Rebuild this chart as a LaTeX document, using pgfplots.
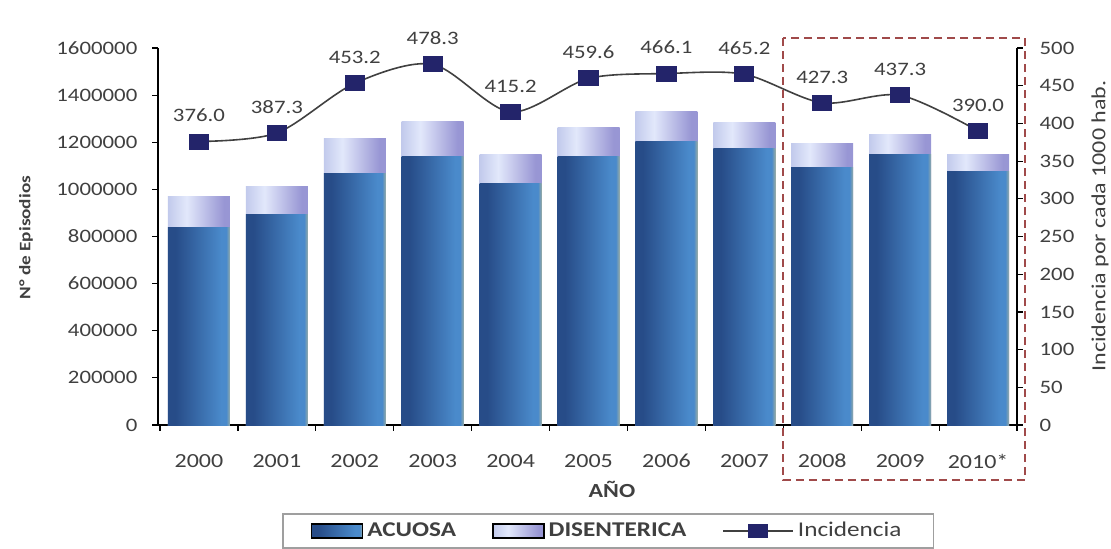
\documentclass[border=0pt]{standalone}
\usepackage{pgfplots}
\pgfplotsset{compat=1.18}
\usepackage{fontspec}
\setmainfont{Carlito}[FakeStretch=1.2]
\definecolor{txt}{HTML}{404040}
\definecolor{ac1}{HTML}{274C88}
\definecolor{ac2}{HTML}{4A8ACB}
\definecolor{ac3}{HTML}{98ACA6}
\definecolor{ds1}{HTML}{C2CAEC}
\definecolor{ds2}{HTML}{E2E8FB}
\definecolor{ds3}{HTML}{9896D4}
\definecolor{mk}{HTML}{23246A}
\definecolor{boxred}{HTML}{A04A4A}
\pgfdeclarehorizontalshading{acuosa}{100bp}{color(0bp)=(ac1); color(25bp)=(ac1); color(31bp)=(ac1); color(68bp)=(ac2); color(72bp)=(ac2); color(75bp)=(ac3); color(100bp)=(ac3)}
\pgfdeclarehorizontalshading{disen}{100bp}{color(0bp)=(ds1); color(25bp)=(ds1); color(40bp)=(ds2); color(70bp)=(ds3); color(75bp)=(ds3); color(100bp)=(ds3)}
\pgfplotsset{/pgf/number format/assume math mode=true,
  acb/.style={draw=none, shading=acuosa, bar shift=0pt, forget plot},
  dsb/.style={draw=none, shading=disen, bar shift=0pt, forget plot}}
\begin{document}
\begin{tikzpicture}
\useasboundingbox (-79pt,-61.5pt) rectangle (476.5pt,212.5pt);
\begin{axis}[
  at={(0pt,0pt)}, anchor=south west,
  scale only axis, width=429.5pt, height=188.5pt,
  xmin=-0.526, xmax=10.5, ymin=0, ymax=1600000,
  axis lines*=left,
  axis line style={black, line width=0.7pt},
  ybar, bar width=31pt,
  xtick={-0.5,0.5,...,10.5}, xticklabels={},
  extra x ticks={0,1,2,3,4,5,6,7,8,9,10},
  extra x tick labels={2000,2001,2002,2003,2004,2005,2006,2007,2008,2009,2010*},
  extra x tick style={major tick length=0pt, tick label style={yshift=-11pt, font=\fontsize{10}{11}\selectfont}},
  tick align=outside, major tick length=2.8pt,
  tick style={black, line width=0.6pt},
  ytick={0,200000,...,1600000},
  scaled y ticks=false,
  yticklabel style={/pgf/number format/fixed, /pgf/number format/1000 sep={}, xshift=-4pt},
  ticklabel style={font=\fontsize{9.5}{10}\selectfont, text=txt},
  ylabel={N° de Episodios},
  ylabel style={at={(axis description cs:-0.1537,0.497)}, anchor=center, font=\bfseries\fontsize{8}{9}\selectfont, text=txt},
  xlabel={AÑO},
  xlabel style={at={(axis description cs:0.5285,-0.17)}, anchor=center, font=\bfseries\fontsize{10}{11}\selectfont, text=txt},
  clip=false,
]
% totals (ACUOSA + DISENTERICA), drawn first in the DISENTERICA shading
\addplot[dsb] coordinates {(0,968000)};
\addplot[dsb] coordinates {(1,1012000)};
\addplot[dsb] coordinates {(2,1217000)};
\addplot[dsb] coordinates {(3,1287000)};
\addplot[dsb] coordinates {(4,1146000)};
\addplot[dsb] coordinates {(5,1264000)};
\addplot[dsb] coordinates {(6,1330000)};
\addplot[dsb] coordinates {(7,1283000)};
\addplot[dsb] coordinates {(8,1196000)};
\addplot[dsb] coordinates {(9,1231000)};
\addplot[dsb] coordinates {(10,1148000)};
% ACUOSA
\addplot[acb] coordinates {(0,840000)};
\addplot[acb] coordinates {(1,894000)};
\addplot[acb] coordinates {(2,1068000)};
\addplot[acb] coordinates {(3,1139000)};
\addplot[acb] coordinates {(4,1023000)};
\addplot[acb] coordinates {(5,1139000)};
\addplot[acb] coordinates {(6,1202000)};
\addplot[acb] coordinates {(7,1174000)};
\addplot[acb] coordinates {(8,1094000)};
\addplot[acb] coordinates {(9,1149000)};
\addplot[acb] coordinates {(10,1075000)};
\end{axis}
\begin{axis}[
  at={(0pt,0pt)}, anchor=south west,
  scale only axis, width=429.5pt, height=188.5pt,
  xmin=-0.526, xmax=10.5, ymin=0, ymax=500,
  axis x line=none, axis y line*=right,
  axis line style={black, line width=0.7pt},
  tick align=outside, major tick length=2.8pt,
  tick style={black, line width=0.6pt},
  ytick={0,50,...,500},
  yticklabel style={xshift=5pt, font=\fontsize{9.5}{10}\selectfont, text=txt},
  ylabel={Incidencia por cada 1000 hab.},
  ylabel style={at={(axis description cs:1.0966,0.528)}, anchor=center, font=\fontsize{10}{11}\selectfont, text=txt},
  clip=false,
  legend style={at={(0.524,-0.281)}, anchor=center, legend columns=3,
    draw=gray!75, line width=0.8pt, font=\fontsize{10.5}{11}\selectfont, text=txt,
    inner xsep=14pt, inner ysep=2pt,
    /tikz/every even column/.append style={column sep=16pt}},
]
\addlegendimage{legend image code/.code={\fill[shading=acuosa] (0pt,-3.5pt) rectangle (25.5pt,3.5pt);}}
\addlegendentry{\textbf{ACUOSA}}
\addlegendimage{legend image code/.code={\fill[shading=disen] (0pt,-3.5pt) rectangle (25.5pt,3.5pt);}}
\addlegendentry{\textbf{DISENTERICA}}
\addplot[smooth, color=txt, line width=0.8pt, mark=square*, mark size=3.6pt,
  mark options={xscale=1.3, fill=mk, draw=mk},
  nodes near coords={\pgfmathprintnumber[fixed,fixed zerofill,precision=1]{\pgfplotspointmeta}},
  nodes near coords style={font=\fontsize{9.5}{10}\selectfont, text=txt, yshift=6pt},
  legend image code/.code={\draw[txt, line width=0.8pt] (0pt,0pt) -- (35pt,0pt);
    \fill[mk] (13pt,-3.2pt) rectangle (22pt,3.2pt);}
] coordinates {
 (0,376.0) (1,387.3) (2,453.2) (3,478.3) (4,415.2) (5,459.6)
 (6,466.1) (7,465.2) (8,427.3) (9,437.3) (10,390.0)};
\addlegendentry{Incidencia}
\draw[boxred, line width=0.9pt, dash pattern=on 4pt off 2.5pt] (rel axis cs:0.7276,1.0265) rectangle (rel axis cs:1.0093,-0.146);
\end{axis}
\end{tikzpicture}
\end{document}
